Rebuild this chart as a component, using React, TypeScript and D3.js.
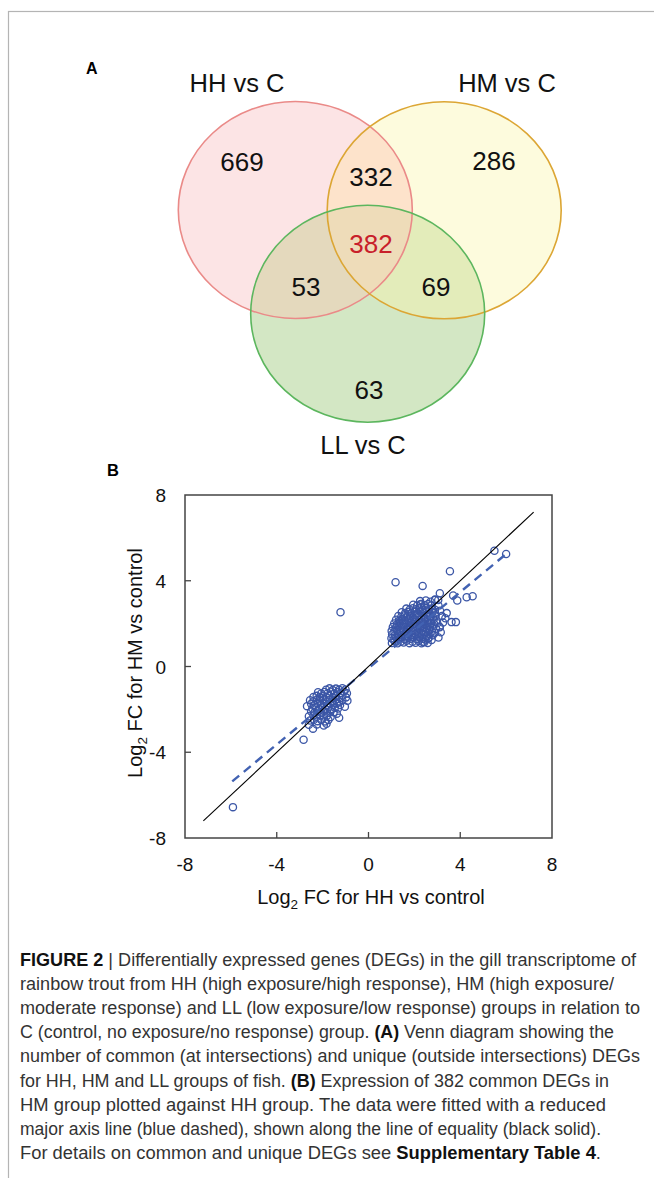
import React from 'react';
import * as d3 from 'd3';

// Venn diagram (A)
const setNames = ['HH vs C', 'HM vs C', 'LL vs C'];
const regionKeys = ['HH', 'HM', 'LL', 'HH+HM', 'HH+LL', 'HM+LL', 'HH+HM+LL'];
const regionCounts = [669, 286, 63, 332, 53, 69, 382];

// scatter (B)
const axisTicks = [-8, -4, 0, 4, 8];
const innerTicks = [-4, 0, 4];
const equalityLine: [number, number][] = [[-7.2, -7.2], [7.2, 7.2]];
const rmaLine: [number, number][] = [[-5.94, -5.36], [6.0, 5.25]];

const upperCluster: [number, number][] = [
  [1.02, 1.10], [1.14, 1.18], [1.27, 1.08], [1.40, 1.15], [1.53, 1.12], [1.66, 1.20], [1.79, 1.09], [1.92, 1.16], [2.05, 1.11], [2.18, 1.19], [2.31, 1.08], [2.44, 1.14], [2.58, 1.10],
  [1.00, 1.32], [1.09, 1.26], [1.21, 1.34], [1.33, 1.28], [1.46, 1.36], [1.58, 1.27], [1.71, 1.33], [1.84, 1.29], [1.97, 1.37], [2.10, 1.28], [2.23, 1.35], [2.36, 1.30], [2.49, 1.26], [2.62, 1.33], [2.75, 1.24],
  [1.03, 1.49], [1.15, 1.45], [1.28, 1.52], [1.40, 1.46], [1.53, 1.50], [1.65, 1.44], [1.78, 1.53], [1.90, 1.47], [2.03, 1.51], [2.15, 1.45], [2.28, 1.54], [2.40, 1.48], [2.53, 1.43], [2.66, 1.50], [2.80, 1.46],
  [1.01, 1.66], [1.13, 1.62], [1.25, 1.69], [1.38, 1.63], [1.50, 1.68], [1.63, 1.61], [1.75, 1.70], [1.88, 1.64], [2.00, 1.67], [2.13, 1.60], [2.25, 1.71], [2.38, 1.65], [2.50, 1.62], [2.63, 1.69], [2.76, 1.63], [2.90, 1.58],
  [1.06, 1.84], [1.18, 1.79], [1.31, 1.86], [1.43, 1.80], [1.56, 1.85], [1.68, 1.78], [1.81, 1.87], [1.93, 1.81], [2.06, 1.84], [2.18, 1.77], [2.31, 1.88], [2.43, 1.82], [2.56, 1.79], [2.68, 1.86], [2.81, 1.80], [2.95, 1.76],
  [1.12, 2.01], [1.24, 1.96], [1.37, 2.03], [1.49, 1.97], [1.62, 2.02], [1.74, 1.95], [1.87, 2.04], [1.99, 1.98], [2.12, 2.01], [2.24, 1.94], [2.37, 2.05], [2.49, 1.99], [2.62, 1.96], [2.74, 2.03], [2.87, 1.97], [3.00, 2.02],
  [1.20, 2.18], [1.33, 2.13], [1.46, 2.20], [1.58, 2.14], [1.71, 2.19], [1.83, 2.12], [1.96, 2.21], [2.08, 2.15], [2.21, 2.18], [2.33, 2.11], [2.46, 2.22], [2.58, 2.16], [2.71, 2.13], [2.84, 2.20], [2.97, 2.15],
  [1.30, 2.36], [1.43, 2.31], [1.56, 2.38], [1.68, 2.32], [1.81, 2.37], [1.93, 2.30], [2.06, 2.39], [2.18, 2.33], [2.31, 2.36], [2.43, 2.29], [2.56, 2.40], [2.68, 2.34], [2.81, 2.31], [2.93, 2.38],
  [1.45, 2.53], [1.60, 2.49], [1.74, 2.55], [1.87, 2.50], [2.00, 2.54], [2.13, 2.47], [2.26, 2.56], [2.39, 2.51], [2.52, 2.53], [2.65, 2.46], [2.78, 2.55], [2.90, 2.50],
  [1.65, 2.70], [1.80, 2.66], [1.94, 2.72], [2.08, 2.67], [2.22, 2.71], [2.36, 2.64], [2.50, 2.73], [2.63, 2.68], [2.77, 2.70], [2.90, 2.65],
  [1.95, 2.88], [2.12, 2.84], [2.28, 2.90], [2.44, 2.86], [2.60, 2.92], [2.75, 2.85],
  [2.25, 3.05], [2.50, 3.08], [2.70, 3.02], [2.90, 3.12], [3.05, 2.85], [3.12, 2.60], [3.20, 2.35],
  [3.10, 1.85], [3.25, 2.05], [3.15, 1.60], [3.35, 2.25], [3.05, 1.35], [2.38, 1.13], [2.60, 1.29], [3.11, 1.83],
];

const lowerCluster: [number, number][] = [
  [-1.85, -1.08], [-1.70, -1.02], [-1.56, -1.10], [-1.42, -1.03], [-1.28, -1.09], [-1.14, -1.01], [-1.00, -1.07],
  [-2.20, -1.20], [-2.06, -1.26], [-1.92, -1.19], [-1.78, -1.25], [-1.64, -1.18], [-1.50, -1.27], [-1.36, -1.20], [-1.22, -1.24], [-1.08, -1.17], [-0.94, -1.25],
  [-2.40, -1.42], [-2.26, -1.37], [-2.12, -1.44], [-1.98, -1.38], [-1.84, -1.43], [-1.70, -1.36], [-1.56, -1.45], [-1.42, -1.39], [-1.28, -1.42], [-1.14, -1.35], [-0.98, -1.44],
  [-2.55, -1.57], [-2.40, -1.62], [-2.26, -1.55], [-2.12, -1.60], [-1.98, -1.54], [-1.84, -1.62], [-1.70, -1.56], [-1.56, -1.61], [-1.42, -1.55], [-1.28, -1.63], [-1.14, -1.57], [-0.92, -1.60],
  [-2.68, -1.85], [-2.50, -1.74], [-2.36, -1.79], [-2.22, -1.72], [-2.08, -1.78], [-1.94, -1.73], [-1.80, -1.80], [-1.66, -1.74], [-1.52, -1.78], [-1.38, -1.72], [-1.24, -1.80], [-1.03, -1.88],
  [-2.45, -1.96], [-2.31, -1.91], [-2.17, -1.98], [-2.03, -1.92], [-1.89, -1.97], [-1.75, -1.90], [-1.61, -1.99], [-1.47, -1.93], [-1.33, -1.96],
  [-2.50, -2.10], [-2.36, -2.15], [-2.22, -2.09], [-2.08, -2.14], [-1.94, -2.08], [-1.80, -2.16], [-1.66, -2.10], [-1.52, -2.13], [-1.38, -2.20],
  [-2.60, -2.32], [-2.40, -2.28], [-2.25, -2.34], [-2.10, -2.27], [-1.95, -2.33], [-1.80, -2.29], [-1.65, -2.36], [-1.28, -2.39],
  [-2.55, -2.52], [-2.38, -2.48], [-2.22, -2.55], [-2.06, -2.50], [-1.90, -2.56], [-1.75, -2.49],
  [-2.42, -2.90], [-2.60, -2.72], [-2.25, -2.70], [-1.95, -2.75], [-1.83, -2.67],
];

const outliers: [number, number][] = [
  [1.18, 3.93], [2.36, 3.76], [3.55, 4.44], [5.49, 5.40], [6.00, 5.25], [4.28, 3.23], [4.54, 3.28],
  [3.87, 3.08], [3.69, 3.31], [3.11, 3.42], [3.41, 2.49], [3.62, 2.07], [3.81, 2.07], [2.28, 2.92],
  [2.28, 2.76], [2.90, 3.10], [3.04, 3.10], [-1.22, 2.53], [-2.83, -3.42], [-5.91, -6.56],
];

const captionLines: [string, boolean][][] = [
  [['FIGURE 2', true], [' | Differentially expressed genes (DEGs) in the gill transcriptome of', false]],
  [['rainbow trout from HH (high exposure/high response), HM (high exposure/', false]],
  [['moderate response) and LL (low exposure/low response) groups in relation to', false]],
  [['C (control, no exposure/no response) group. ', false], ['(A)', true], [' Venn diagram showing the', false]],
  [['number of common (at intersections) and unique (outside intersections) DEGs', false]],
  [['for HH, HM and LL groups of fish. ', false], ['(B)', true], [' Expression of 382 common DEGs in', false]],
  [['HM group plotted against HH group. The data were fitted with a reduced', false]],
  [['major axis line (blue dashed), shown along the line of equality (black solid).', false]],
  [['For details on common and unique DEGs see ', false], ['Supplementary Table 4', true], ['.', false]],
];
const captionEnds = [636, 614, 640, 614, 640, 609, 606, 601, 601];

const FONT = '"Liberation Sans", Arial, Helvetica, sans-serif';

export default function App() {
  // venn layout
  const rx = 117;
  const ry = 108.5;
  const centres: Record<string, [number, number]> = {
    HH: [295.3, 210],
    HM: [444.2, 210.3],
    LL: [367.7, 313.7],
  };
  const setFill: Record<string, string> = { HH: '#fce4e5', HM: '#fdfbdd', LL: '#d3e7c4' };
  const setStroke: Record<string, string> = { HH: '#ea8a88', HM: '#dca634', LL: '#5cb65e' };
  const regionPos: Record<string, [number, number]> = {
    HH: [242, 171],
    HM: [494, 170],
    LL: [369, 399],
    'HH+HM': [371, 186],
    'HH+LL': [306, 296],
    'HM+LL': [436, 296],
    'HH+HM+LL': [371, 253],
  };
  const setLabelPos: [number, number][] = [[237, 92], [507, 92], [363, 454]];

  // scatter scales
  const x = d3.scaleLinear().domain([-8, 8]).range([185, 552]);
  const y = d3.scaleLinear().domain([-8, 8]).range([838, 495]);
  const line = d3.line<[number, number]>().x(d => x(d[0])).y(d => y(d[1]));
  const points = [...upperCluster, ...lowerCluster, ...outliers];
  const blue = '#3b56a6';

  const ellipse = (k: string, props: any = {}) => (
    <ellipse cx={centres[k][0]} cy={centres[k][1]} rx={rx} ry={ry} {...props} />
  );

  return (
    <svg width={654} height={1178} style={{ position: 'absolute', left: 0, top: 0, background: '#fff' }} fontFamily={FONT}>
      <defs>
        {['HH', 'HM', 'LL'].map(k => (
          <clipPath id={`clip-${k}`} key={k}>{ellipse(k)}</clipPath>
        ))}
      </defs>
      <rect x={8.5} y={11.5} width={700} height={1200} fill="none" stroke="#b4b4b4" strokeWidth={1.2} />

      {/* panel A */}
      <text x={86} y={73.5} fontSize={16} fontWeight="bold">A</text>
      {['HH', 'HM', 'LL'].map(k => <g key={k}>{ellipse(k, { fill: setFill[k] })}</g>)}
      <g clipPath="url(#clip-HH)">{ellipse('HM', { fill: '#fde3cb' })}</g>
      <g clipPath="url(#clip-HH)">{ellipse('LL', { fill: '#e4d9bd' })}</g>
      <g clipPath="url(#clip-HM)">{ellipse('LL', { fill: '#e3ecba' })}</g>
      <g clipPath="url(#clip-HM)"><g clipPath="url(#clip-HH)">{ellipse('LL', { fill: '#eedcb9' })}</g></g>
      {['HH', 'HM', 'LL'].map(k => <g key={k}>{ellipse(k, { fill: 'none', stroke: setStroke[k], strokeWidth: 1.6 })}</g>)}
      {setNames.map((n, i) => (
        <text key={n} x={setLabelPos[i][0]} y={setLabelPos[i][1]} fontSize={25.5} textAnchor="middle" fill="#111">{n}</text>
      ))}
      {regionKeys.map((k, i) => (
        <text key={k} x={regionPos[k][0]} y={regionPos[k][1]} fontSize={26} textAnchor="middle"
          fill={k === 'HH+HM+LL' ? '#c8202a' : '#111'}>{regionCounts[i]}</text>
      ))}

      {/* panel B */}
      <text x={107} y={475.5} fontSize={16.5} fontWeight="bold">B</text>
      <g>
        {points.map((p, i) => (
          <circle key={i} cx={x(p[0])} cy={y(p[1])} r={3.6} fill="none" stroke={blue} strokeWidth={1.3} />
        ))}
      </g>
      <path d={line(rmaLine) || ''} fill="none" stroke="#4262b2" strokeWidth={2.4} strokeDasharray="9,6" />
      <path d={line(equalityLine) || ''} fill="none" stroke="#000" strokeWidth={1.1} />
      <rect x={x(-8)} y={y(8)} width={x(8) - x(-8)} height={y(-8) - y(8)} fill="none" stroke="#444" strokeWidth={1.5} />
      {innerTicks.map(t => (
        <g key={t}>
          <line x1={x(t)} x2={x(t)} y1={y(-8)} y2={y(-8) - 6} stroke="#444" strokeWidth={1.3} />
          <line x1={x(-8)} x2={x(-8) + 6} y1={y(t)} y2={y(t)} stroke="#444" strokeWidth={1.3} />
        </g>
      ))}
      {axisTicks.map(t => (
        <g key={t} fontSize={19} fill="#111">
          <text x={x(t)} y={871} textAnchor="middle">{t}</text>
          <text x={166} y={y(t) + 7} textAnchor="end">{t}</text>
        </g>
      ))}
      <text x={371} y={904} fontSize={20} textAnchor="middle" fill="#111">
        Log<tspan fontSize={13.5} dy={5}>2</tspan><tspan dy={-5}> FC for HH vs control</tspan>
      </text>
      <text transform="translate(142,663) rotate(-90)" fontSize={20} textAnchor="middle" fill="#111">
        Log<tspan fontSize={13.5} dy={5}>2</tspan><tspan dy={-5}> FC for HM vs control</tspan>
      </text>

      {/* caption */}
      {captionLines.map((segs, i) => (
        <text key={i} x={20} y={966 + i * 24.1} fontSize={17.5} fill="#333"
          textLength={captionEnds[i] - 20} lengthAdjust="spacingAndGlyphs">
          {segs.map((s, j) => (
            <tspan key={j} fontWeight={s[1] ? 'bold' : 'normal'} fill={s[1] ? '#111' : '#333'}>{s[0]}</tspan>
          ))}
        </text>
      ))}
    </svg>
  );
}
